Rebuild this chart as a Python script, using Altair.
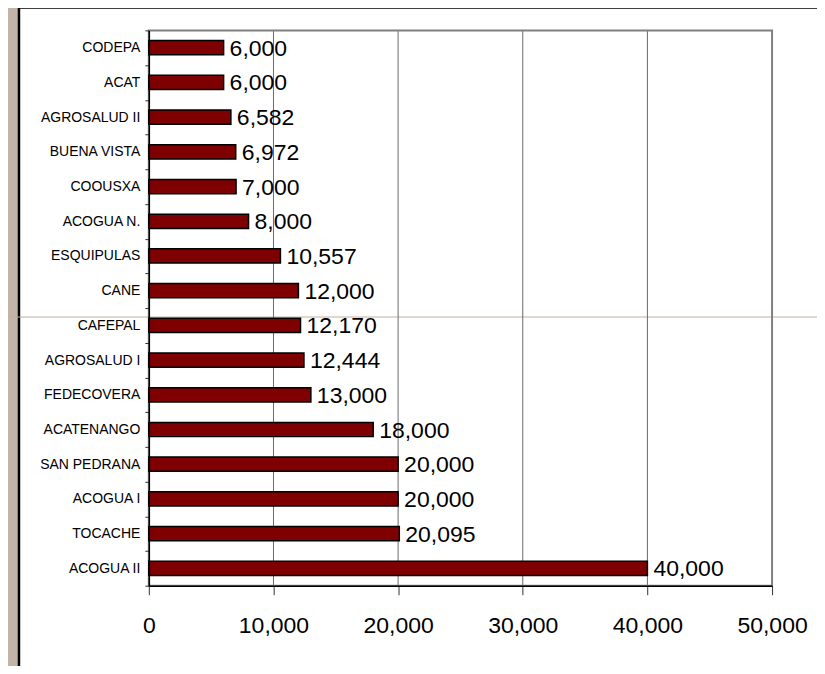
import altair as alt
import pandas as pd

categories = ["CODEPA", "ACAT", "AGROSALUD II", "BUENA VISTA", "COOUSXA", "ACOGUA N.",
              "ESQUIPULAS", "CANE", "CAFEPAL", "AGROSALUD I", "FEDECOVERA", "ACATENANGO",
              "SAN PEDRANA", "ACOGUA I", "TOCACHE", "ACOGUA II"]
values = [6000, 6000, 6582, 6972, 7000, 8000, 10557, 12000, 12170, 12444, 13000, 18000,
          20000, 20000, 20095, 40000]
x_ticks = [0, 10000, 20000, 30000, 40000, 50000]
grid_values = [10000, 20000, 30000, 40000]

df = pd.DataFrame({"org": categories, "value": values})
grid_df = pd.DataFrame({"g": grid_values})

FONT = "Liberation Sans Narrow, Arial Narrow, Liberation Sans, Arial"
W, H = 624, 556

xscale = alt.Scale(domain=[0, 50000], nice=False, zero=True)
yscale = alt.Scale(domain=categories, paddingInner=0, paddingOuter=0)

xaxis = alt.Axis(values=x_ticks, format=",d", title=None, grid=False,
                 domainColor="black", domainWidth=1.5, tickColor="#333333",
                 tickSize=9, tickWidth=1, labelFont=FONT, labelFontSize=23,
                 labelColor="black", labelPadding=20, zindex=1,
                 labelFlush=False, labelOverlap=False)
yaxis = alt.Axis(title=None, grid=False, tickBand="extent",
                 domainColor="black", domainWidth=1.5, tickColor="#333333",
                 tickSize=4, labelFont=FONT, labelFontSize=14,
                 labelColor="black", labelPadding=5, zindex=1)

panel = alt.Chart(alt.Data(values=[{"a": 1}])).mark_rect(
    fill="white", stroke="black", strokeWidth=2.5
).encode(x=alt.value(-130), x2=alt.value(760), y=alt.value(-23), y2=alt.value(700))

seam = alt.Chart(alt.Data(values=[{"a": 1}])).mark_rule(
    color="#c9ae96", strokeWidth=1
).encode(x=alt.value(-160), x2=alt.value(760), y=alt.value(287))

grid = alt.Chart(grid_df).mark_rule(color="#6a6a6a", strokeWidth=1).encode(
    x=alt.X("g:Q", scale=xscale, axis=xaxis),
    y=alt.value(0), y2=alt.value(H)
)

border = alt.Chart(alt.Data(values=[{"a": 1}])).mark_rect(
    fill=None, stroke="#808080", strokeWidth=2
).encode(x=alt.value(0), x2=alt.value(W), y=alt.value(0), y2=alt.value(H))

bars = alt.Chart(df).mark_bar(
    color="#7f0000", stroke="black", strokeWidth=1.5, height={"band": 0.41}
).encode(
    x=alt.X("value:Q", scale=xscale, axis=xaxis),
    y=alt.Y("org:N", scale=yscale, sort=categories, axis=yaxis)
)

labels = alt.Chart(df).mark_text(
    align="left", baseline="middle", dx=6, dy=1, font=FONT, fontSize=23, color="black"
).encode(
    x=alt.X("value:Q", scale=xscale, axis=xaxis),
    y=alt.Y("org:N", scale=yscale, sort=categories, axis=yaxis),
    text=alt.Text("value:Q", format=",")
)

chart = alt.layer(panel, seam, grid, border, bars, labels).properties(
    width=W, height=H,
    autosize=alt.AutoSizeParams(type="none"),
    padding={"left": 141, "top": 22, "right": 45, "bottom": 80},
    background="#c2b5a8"
).configure_view(stroke=None)

chart.save("out.html", embed_options={"renderer": "svg", "actions": False})
